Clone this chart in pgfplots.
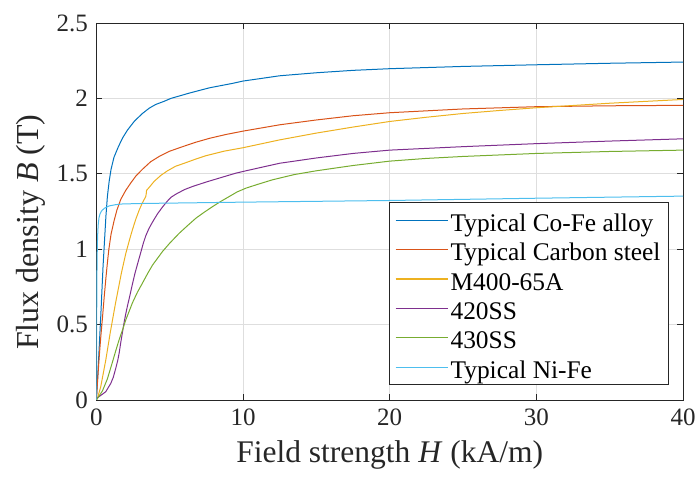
\documentclass[border=0pt]{standalone}
\usepackage{fontspec}
\setmainfont{Liberation Serif}
\usepackage{pgfplots}
\pgfplotsset{compat=1.18}
\definecolor{c1}{RGB}{0,114,189}
\definecolor{c2}{RGB}{217,83,25}
\definecolor{c3}{RGB}{237,177,32}
\definecolor{c4}{RGB}{126,47,142}
\definecolor{c5}{RGB}{119,172,48}
\definecolor{c6}{RGB}{77,190,238}
\definecolor{axc}{RGB}{38,38,38}
\newcommand{\ls}{\rule[-5.3bp]{0pt}{29bp}}
\begin{document}
\begin{tikzpicture}
\useasboundingbox (0,0) rectangle (697bp,478bp);
\begin{axis}[
  at={(96.4bp,78bp)}, anchor=south west,
  width=586.6bp, height=377bp, scale only axis,
  xmin=0, xmax=40, ymin=0, ymax=2.5,
  xtick={0,10,20,30,40}, ytick={0,0.5,1,1.5,2,2.5},
  /pgf/number format/assume math mode=true,
  ticklabel style={font=\fontsize{25bp}{29bp}\selectfont, text=axc},
  xticklabel style={yshift=-5bp},
  yticklabel style={xshift=-5bp},
  axis line style={draw=axc, line width=0.8bp},
  tick style={draw=axc, line width=0.8bp},
  major tick length=6bp, tick align=inside, tick pos=both,
  grid=major, major grid style={draw=black!13, line width=0.6bp},
  xlabel={Field strength \textit{H} (kA/m)},
  ylabel={Flux density \textit{B} (T)},
  xlabel style={font=\fontsize{31.5bp}{36bp}\selectfont, text=axc, at={(axis description cs:0.5,-0.1671)}, anchor=base},
  ylabel style={font=\fontsize{32bp}{36bp}\selectfont, text=axc, at={(axis description cs:-0.099,0.445)}, anchor=base},
  legend style={at={(axis description cs:1,0)}, anchor=south east, xshift=-14.3bp, yshift=15bp,
    draw=axc, line width=0.6bp, fill=white, font=\fontsize{25.4bp}{29bp}\selectfont,
    inner xsep=6bp, inner ysep=3bp, row sep=0.2bp, column sep=0pt},
  legend cell align=left,
  legend image code/.code={\draw[#1, line width=1.2bp] (0bp,0bp) -- (52.4bp,0bp);},
  every axis plot/.append style={line width=1bp},
]
\addplot[c1] coordinates {(0,0)(0.15,0.27)(0.3,0.56)(0.45,0.88)(0.55,1.05)(0.65,1.22)(0.75,1.35)(0.87,1.45)(1.0,1.53)(1.2,1.61)(1.5,1.68)(1.8,1.74)(2.12,1.79)(2.6,1.85)(3.14,1.90)(3.6,1.935)(4.05,1.96)(4.6,1.98)(5.08,2.0)(6.33,2.035)(7.7,2.07)(9.3,2.10)(10,2.115)(12.5,2.15)(15,2.17)(17.5,2.186)(20,2.197)(25,2.212)(30,2.223)(35,2.233)(40,2.241)};
\addlegendentry{\ls Typical Co-Fe alloy}
\addplot[c2] coordinates {(0,0)(0.05,0.08)(0.18,0.27)(0.3,0.42)(0.41,0.54)(0.52,0.67)(0.64,0.80)(0.75,0.91)(0.85,1.0)(1.0,1.1)(1.21,1.19)(1.4,1.26)(1.66,1.33)(2.0,1.39)(2.35,1.44)(2.69,1.485)(3.14,1.53)(3.7,1.58)(4.28,1.615)(5.0,1.65)(5.88,1.68)(6.8,1.71)(7.7,1.735)(8.8,1.76)(10,1.783)(12.5,1.825)(15,1.857)(17.5,1.885)(20,1.905)(25,1.93)(30,1.945)(35,1.951)(40,1.954)};
\addlegendentry{\ls Typical Carbon steel}
\addplot[c3] coordinates {(0,0)(0.07,0.01)(0.3,0.09)(0.64,0.265)(0.95,0.45)(1.3,0.64)(1.7,0.84)(2.0,0.97)(2.28,1.07)(2.46,1.13)(2.69,1.20)(2.92,1.26)(3.1,1.30)(3.26,1.33)(3.37,1.35)(3.40,1.37)(3.42,1.39)(3.6,1.41)(3.94,1.45)(4.4,1.49)(4.85,1.52)(5.4,1.55)(5.99,1.57)(6.7,1.595)(7.47,1.62)(8.7,1.65)(10,1.673)(12.5,1.725)(15,1.77)(17.5,1.81)(20,1.847)(22.5,1.875)(25,1.90)(27.5,1.92)(30,1.938)(35,1.968)(40,1.993)};
\addlegendentry{\ls M400-65A}
\addplot[c4] coordinates {(0,0.01)(0.18,0.022)(0.64,0.055)(0.98,0.11)(1.15,0.15)(1.32,0.21)(1.45,0.26)(1.55,0.31)(1.66,0.38)(1.78,0.45)(1.9,0.52)(2.0,0.57)(2.12,0.625)(2.23,0.67)(2.46,0.77)(2.63,0.84)(2.80,0.90)(3.03,0.98)(3.2,1.04)(3.37,1.09)(3.55,1.13)(3.71,1.16)(3.95,1.20)(4.17,1.235)(4.51,1.28)(4.85,1.32)(5.1,1.345)(5.42,1.365)(6.0,1.395)(6.56,1.416)(7.47,1.445)(8.6,1.478)(9.5,1.504)(10.2,1.52)(12.5,1.57)(15,1.605)(17.5,1.635)(20,1.657)(25,1.68)(30,1.70)(35,1.717)(40,1.732)};
\addlegendentry{\ls 420SS}
\addplot[c5] coordinates {(0,0)(0.41,0.06)(0.75,0.14)(1.09,0.25)(1.3,0.32)(1.55,0.40)(1.8,0.47)(2.0,0.53)(2.46,0.645)(2.8,0.715)(3.14,0.775)(3.5,0.84)(3.83,0.895)(4.17,0.94)(4.51,0.985)(5.0,1.04)(5.65,1.106)(6.2,1.155)(6.79,1.206)(7.35,1.245)(7.93,1.283)(8.5,1.318)(9.07,1.35)(9.6,1.38)(10.2,1.405)(11,1.43)(12,1.46)(13.5,1.495)(15,1.52)(17.5,1.555)(20,1.584)(22.5,1.602)(25,1.615)(30,1.635)(35,1.648)(40,1.657)};
\addlegendentry{\ls 430SS}
\addplot[c6] coordinates {(0,0)(0.01,0.3)(0.02,0.55)(0.035,0.8)(0.05,0.95)(0.08,1.08)(0.12,1.16)(0.18,1.21)(0.25,1.235)(0.33,1.25)(0.41,1.26)(0.6,1.275)(0.87,1.287)(1.3,1.295)(1.78,1.30)(3,1.303)(4.5,1.305)(10,1.312)(20,1.323)(30,1.338)(40,1.352)};
\addlegendentry{\ls Typical Ni-Fe}
\end{axis}
\end{tikzpicture}
\end{document}
